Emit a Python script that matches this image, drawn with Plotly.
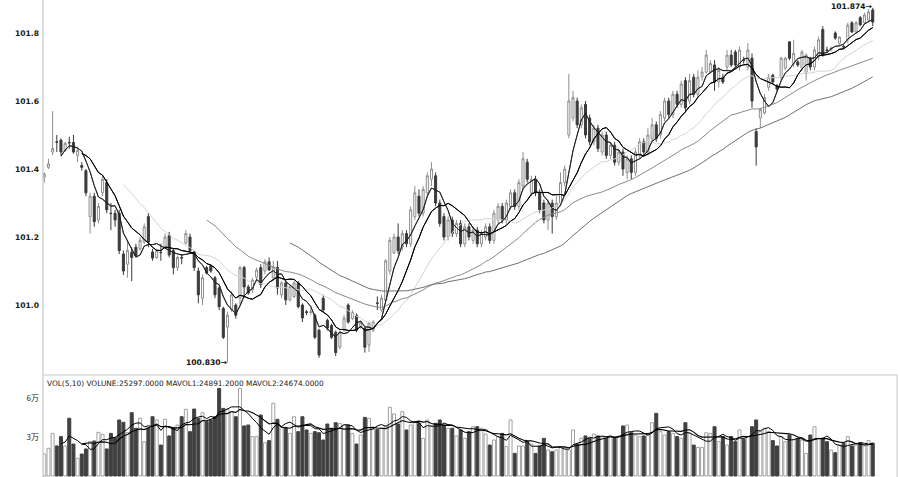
import plotly.graph_objects as go
import pandas as pd

# ---------------- data ----------------
open_ = [
    101.376, 101.405, 101.450, 101.480, 101.485, 101.455, 101.478, 101.478, 101.440, 101.410,
    101.395, 101.260, 101.320, 101.250, 101.330, 101.360, 101.270, 101.270, 101.270, 101.150,
    101.120, 101.155, 101.170, 101.165, 101.185, 101.260, 101.156, 101.140, 101.155, 101.170,
    101.205, 101.160, 101.110, 101.140, 101.182, 101.200, 101.156, 101.100, 101.020, 101.110,
    101.115, 101.080, 101.050, 100.990, 100.935, 100.985, 101.000, 101.020, 101.110, 101.053,
    101.044, 101.082, 101.110, 101.100, 101.127, 101.080, 101.110, 101.030, 101.065, 101.015,
    101.025, 101.065, 101.000, 100.980, 100.978, 100.970, 100.926, 101.020, 100.955, 100.940,
    100.920, 100.876, 100.926, 101.000, 100.960, 100.970, 100.935, 100.932, 100.882, 100.926,
    101.006, 100.985, 101.014, 101.100, 101.153, 101.200, 101.170, 101.210, 101.180, 101.260,
    101.320, 101.270, 101.330, 101.370, 101.380, 101.300, 101.260, 101.200, 101.250, 101.210,
    101.240, 101.180, 101.230, 101.190, 101.220, 101.180, 101.200, 101.230, 101.190, 101.250,
    101.290, 101.250, 101.290, 101.330, 101.290, 101.350, 101.420, 101.330, 101.370, 101.330,
    101.300, 101.250, 101.300, 101.260, 101.300, 101.360, 101.500, 101.550, 101.600, 101.530,
    101.590, 101.550, 101.480, 101.520, 101.450, 101.500, 101.440, 101.470, 101.420, 101.450,
    101.390, 101.430, 101.390, 101.440, 101.480, 101.450, 101.490, 101.530, 101.500, 101.550,
    101.600, 101.560, 101.620, 101.590, 101.660, 101.600, 101.670, 101.620, 101.672, 101.685,
    101.685, 101.706, 101.656, 101.670, 101.700, 101.735, 101.744, 101.700, 101.720, 101.700,
    101.726, 101.510, 101.550, 101.565, 101.640, 101.676, 101.645, 101.670, 101.697, 101.774,
    101.710, 101.715, 101.697, 101.682, 101.726, 101.700, 101.730, 101.810, 101.750, 101.752,
    101.800, 101.770, 101.760, 101.780, 101.830, 101.803, 101.845, 101.830, 101.838, 101.868,
]
high = [
    101.390, 101.430, 101.570, 101.500, 101.490, 101.480, 101.495, 101.500, 101.465, 101.420,
    101.400, 101.330, 101.330, 101.300, 101.380, 101.370, 101.300, 101.280, 101.280, 101.160,
    101.190, 101.170, 101.180, 101.200, 101.240, 101.270, 101.165, 101.165, 101.180, 101.210,
    101.215, 101.165, 101.145, 101.150, 101.220, 101.210, 101.160, 101.110, 101.090, 101.115,
    101.120, 101.085, 101.055, 100.995, 100.980, 101.040, 101.005, 101.115, 101.115, 101.060,
    101.080, 101.110, 101.120, 101.135, 101.140, 101.130, 101.130, 101.070, 101.070, 101.060,
    101.070, 101.070, 101.005, 100.985, 100.990, 100.975, 100.930, 101.030, 100.960, 100.945,
    100.925, 100.925, 100.970, 101.005, 100.985, 100.975, 100.950, 100.935, 100.950, 100.955,
    101.025, 101.030, 101.135, 101.200, 101.210, 101.240, 101.220, 101.220, 101.290, 101.350,
    101.340, 101.350, 101.390, 101.420, 101.390, 101.310, 101.270, 101.260, 101.260, 101.250,
    101.250, 101.240, 101.240, 101.230, 101.230, 101.220, 101.240, 101.240, 101.280, 101.300,
    101.300, 101.310, 101.340, 101.340, 101.370, 101.450, 101.430, 101.380, 101.380, 101.340,
    101.310, 101.310, 101.310, 101.320, 101.390, 101.410, 101.680, 101.630, 101.610, 101.590,
    101.600, 101.560, 101.530, 101.530, 101.510, 101.510, 101.480, 101.480, 101.460, 101.460,
    101.440, 101.440, 101.460, 101.490, 101.490, 101.520, 101.550, 101.540, 101.570, 101.610,
    101.610, 101.630, 101.630, 101.660, 101.670, 101.680, 101.680, 101.690, 101.700, 101.750,
    101.720, 101.720, 101.700, 101.680, 101.750, 101.750, 101.750, 101.760, 101.730, 101.770,
    101.740, 101.520, 101.580, 101.620, 101.680, 101.680, 101.650, 101.730, 101.730, 101.775,
    101.780, 101.720, 101.750, 101.740, 101.730, 101.760, 101.790, 101.820, 101.760, 101.760,
    101.805, 101.790, 101.765, 101.830, 101.835, 101.835, 101.850, 101.860, 101.870, 101.874,
]
low = [
    101.360, 101.400, 101.440, 101.450, 101.440, 101.450, 101.460, 101.445, 101.420, 101.395,
    101.320, 101.210, 101.230, 101.240, 101.320, 101.270, 101.220, 101.230, 101.150, 101.088,
    101.080, 101.070, 101.140, 101.160, 101.180, 101.170, 101.130, 101.135, 101.130, 101.165,
    101.140, 101.090, 101.100, 101.120, 101.178, 101.155, 101.100, 101.005, 101.000, 101.090,
    101.095, 101.020, 100.985, 100.900, 100.830, 100.980, 100.960, 101.000, 101.020, 101.030,
    101.035, 101.075, 101.050, 101.090, 101.100, 101.070, 101.030, 101.020, 101.000, 101.010,
    101.020, 100.990, 100.950, 100.970, 100.970, 100.900, 100.845, 100.980, 100.925, 100.900,
    100.850, 100.870, 100.920, 100.945, 100.955, 100.920, 100.930, 100.860, 100.862, 100.920,
    100.985, 100.980, 101.010, 101.090, 101.150, 101.150, 101.160, 101.170, 101.170, 101.250,
    101.260, 101.260, 101.320, 101.350, 101.290, 101.230, 101.190, 101.190, 101.200, 101.200,
    101.170, 101.170, 101.190, 101.180, 101.170, 101.170, 101.190, 101.180, 101.180, 101.240,
    101.240, 101.240, 101.280, 101.280, 101.280, 101.340, 101.360, 101.320, 101.320, 101.270,
    101.240, 101.220, 101.210, 101.250, 101.290, 101.350, 101.490, 101.540, 101.520, 101.520,
    101.490, 101.470, 101.470, 101.450, 101.440, 101.430, 101.430, 101.410, 101.410, 101.380,
    101.370, 101.370, 101.380, 101.430, 101.440, 101.440, 101.480, 101.480, 101.490, 101.540,
    101.550, 101.550, 101.580, 101.580, 101.570, 101.590, 101.610, 101.610, 101.660, 101.680,
    101.680, 101.630, 101.640, 101.650, 101.690, 101.700, 101.700, 101.690, 101.710, 101.690,
    101.580, 101.410, 101.520, 101.560, 101.630, 101.650, 101.630, 101.660, 101.690, 101.720,
    101.700, 101.700, 101.690, 101.660, 101.690, 101.690, 101.720, 101.730, 101.740, 101.745,
    101.780, 101.765, 101.755, 101.770, 101.800, 101.800, 101.820, 101.825, 101.835, 101.820,
]
close = [
    101.385, 101.415, 101.460, 101.479, 101.450, 101.475, 101.477, 101.450, 101.455, 101.405,
    101.330, 101.320, 101.245, 101.290, 101.370, 101.280, 101.269, 101.250, 101.160, 101.100,
    101.160, 101.140, 101.145, 101.190, 101.230, 101.185, 101.138, 101.160, 101.154, 101.200,
    101.147, 101.110, 101.140, 101.138, 101.210, 101.160, 101.110, 101.030, 101.080, 101.094,
    101.100, 101.030, 100.995, 100.905, 100.970, 101.030, 100.970, 101.110, 101.053, 101.035,
    101.073, 101.103, 101.060, 101.127, 101.103, 101.112, 101.050, 101.065, 101.015, 101.053,
    101.065, 100.995, 100.962, 100.978, 100.980, 100.905, 100.853, 100.985, 100.932, 100.905,
    100.860, 100.920, 100.962, 100.950, 100.978, 100.926, 100.948, 100.876, 100.947, 100.950,
    101.005, 101.020, 101.130, 101.190, 101.200, 101.160, 101.210, 101.180, 101.280, 101.330,
    101.270, 101.340, 101.380, 101.400, 101.300, 101.240, 101.200, 101.250, 101.210, 101.240,
    101.180, 101.230, 101.200, 101.220, 101.180, 101.210, 101.230, 101.190, 101.270, 101.290,
    101.250, 101.300, 101.330, 101.290, 101.360, 101.430, 101.370, 101.370, 101.330, 101.280,
    101.250, 101.300, 101.260, 101.300, 101.360, 101.400, 101.600, 101.610, 101.530, 101.580,
    101.500, 101.480, 101.520, 101.460, 101.500, 101.440, 101.470, 101.420, 101.450, 101.400,
    101.430, 101.390, 101.450, 101.480, 101.450, 101.500, 101.530, 101.490, 101.560, 101.600,
    101.560, 101.620, 101.590, 101.650, 101.580, 101.660, 101.620, 101.670, 101.685, 101.735,
    101.710, 101.656, 101.690, 101.656, 101.735, 101.706, 101.706, 101.750, 101.719, 101.750,
    101.600, 101.465, 101.575, 101.610, 101.670, 101.656, 101.635, 101.726, 101.726, 101.726,
    101.740, 101.706, 101.744, 101.735, 101.700, 101.750, 101.780, 101.735, 101.749, 101.755,
    101.785, 101.788, 101.759, 101.823, 101.803, 101.830, 101.824, 101.853, 101.862, 101.832,
]
volume = [
    16900, 21300, 32800, 23100, 30300, 23100, 44400, 24600, 13600, 16900,
    20800, 26400, 26900, 33600, 32000, 20800, 32800, 29500, 43100, 41300,
    33300, 48700, 36700, 44400, 26400, 36700, 45600, 43100, 23800, 43600,
    30800, 37400, 39200, 45600, 51300, 34100, 51500, 44400, 48700, 41800,
    43100, 45600, 67400, 52000, 51300, 49500, 45600, 67400, 38500, 39200,
    30300, 30300, 46900, 25600, 27200, 55900, 43600, 37900, 37200, 32800,
    45600, 34100, 45600, 35400, 32800, 34100, 33300, 27700, 40000, 36700,
    41000, 40500, 39200, 39200, 32800, 24600, 31500, 45100, 44400, 35900,
    35900, 36700, 38500, 52800, 47700, 40000, 49500, 35400, 39200, 41800,
    40500, 29000, 43100, 37900, 40500, 43100, 39200, 36700, 36700, 30800,
    35400, 29000, 34100, 37900, 37900, 36700, 32300, 23800, 27700, 30300,
    32800, 22600, 43100, 17400, 23100, 23100, 26400, 24600, 17400, 23100,
    29000, 20000, 18700, 20000, 22600, 22000, 20000, 35400, 24600, 29000,
    30800, 29000, 32300, 30800, 30300, 29000, 30800, 29000, 30800, 38500,
    39200, 33300, 31500, 30300, 30800, 31500, 41000, 48200, 34100, 31500,
    34100, 32800, 30300, 29000, 41000, 32800, 23800, 22000, 22000, 33300,
    32800, 37900, 26400, 30300, 23800, 30300, 26400, 35400, 28200, 30300,
    37900, 43100, 34100, 36700, 34100, 27200, 23100, 30300, 26400, 31500,
    28200, 29000, 27700, 17400, 31500, 37900, 29000, 29000, 26400, 20000,
    17900, 23800, 25100, 30300, 23100, 23800, 25600, 23100, 27200, 25297,
]
price_ticks = [101.0, 101.2, 101.4, 101.6, 101.8]
vol_ticks = [30000, 60000]
vol_tick_text = ["3万", "6万"]
ma_periods = [5, 10, 20, 40, 60]
ma_colors = ["#1e1e1e", "#000000", "#d4d4d4", "#8a8a8a", "#707070"]
ma_widths = [0.9, 1.0, 1.0, 1.0, 1.0]
vol_ma_periods = [5, 10]
vol_label = "VOL(5,10) VOLUNE:25297.0000 MAVOL1:24891.2000 MAVOL2:24674.0000"
low_label = "100.830→"
high_label = "101.874→"

# ---------------- figure ----------------
W, H = 900, 477
n = len(close)
idx = list(range(n))
x0_px, dx_px = 44.3, 4.163
left_px, right_px = 43, 897
xr = [(left_px - x0_px) / dx_px, (right_px - x0_px) / dx_px]

px_per_unit = 340.0
price_top = 101.8 + 33 / px_per_unit
price_bot = 101.8 - (375 - 33) / px_per_unit
vol_per_px = 30000 / 39.0
vol_top = (476 - 376) * vol_per_px
vol_bot = (476 - 477) * vol_per_px

DARK = "#3a3a3a"
UPLINE = "#8e8e8e"

fig = go.Figure()

s = pd.Series(close)
for p, c, w in zip(ma_periods, ma_colors, ma_widths):
    ma = s.rolling(p).mean()
    fig.add_trace(go.Scatter(x=idx, y=ma, mode="lines", line=dict(color=c, width=w),
                             xaxis="x", yaxis="y", showlegend=False, hoverinfo="skip"))

fig.add_trace(go.Candlestick(
    x=idx, open=open_, high=high, low=low, close=close, xaxis="x", yaxis="y",
    increasing=dict(line=dict(color=UPLINE, width=1), fillcolor="#ffffff"),
    decreasing=dict(line=dict(color=DARK, width=1), fillcolor=DARK),
    whiskerwidth=0, showlegend=False, hoverinfo="skip"))

for p, c, w in zip(ma_periods[:2], ma_colors[:2], ma_widths[:2]):
    ma = s.rolling(p).mean()
    fig.add_trace(go.Scatter(x=idx, y=ma, mode="lines", line=dict(color=c, width=w),
                             xaxis="x", yaxis="y", showlegend=False, hoverinfo="skip"))

up = [c >= o for o, c in zip(open_, close)]
fill = ["#ffffff" if u else "#404040" for u in up]
edge = ["#a0a0a0" if u else "#404040" for u in up]
fig.add_trace(go.Bar(x=idx, y=volume, width=0.72, marker=dict(color=fill, line=dict(color=edge, width=1)),
                     xaxis="x", yaxis="y2", showlegend=False, hoverinfo="skip"))
vs = pd.Series(volume, dtype=float)
for p, w in zip(vol_ma_periods, [1.0, 1.1]):
    fig.add_trace(go.Scatter(x=idx, y=vs.rolling(p).mean(), mode="lines",
                             line=dict(color="#000000", width=w), xaxis="x", yaxis="y2",
                             showlegend=False, hoverinfo="skip"))

sep = (H - 375) / H
fig.update_layout(
    width=W, height=H,
    margin=dict(l=left_px, r=W - right_px, t=0, b=0),
    paper_bgcolor="white", plot_bgcolor="white",
    bargap=0,
    xaxis=dict(range=xr, visible=False, anchor="y2", rangeslider=dict(visible=False), fixedrange=True),
    yaxis=dict(domain=[sep, 1.0], range=[price_bot, price_top], tickvals=price_ticks,
               ticktext=[f"{v:.1f}" for v in price_ticks], showgrid=False, zeroline=False,
               showline=False, ticks="", ticklabelstandoff=3,
               tickfont=dict(family="DejaVu Sans", size=7.6, color="#1a1a1a", weight="bold")),
    yaxis2=dict(domain=[0, (H - 376) / H], range=[vol_bot, vol_top], tickvals=vol_ticks,
                ticktext=vol_tick_text, showgrid=False, zeroline=False, showline=False, ticks="",
                ticklabelstandoff=3,
                tickfont=dict(family="Noto Sans CJK SC", size=8, color="#1a1a1a")),
    shapes=[
        dict(type="line", xref="paper", yref="paper", x0=0, x1=0, y0=0, y1=1,
             line=dict(color="#bdbdbd", width=1)),
        dict(type="line", xref="paper", yref="paper", x0=0, x1=1, y0=sep, y1=sep,
             line=dict(color="#c8c8c8", width=1)),
        dict(type="line", xref="paper", yref="paper", x0=1, x1=1, y0=0, y1=sep,
             line=dict(color="#c8c8c8", width=1)),
    ],
    annotations=[
        dict(text=vol_label, xref="paper", yref="paper", x=0.0, y=(H - 383) / H,
             xanchor="left", yanchor="middle", showarrow=False, xshift=2,
             font=dict(family="DejaVu Sans", size=7.4, color="#222222")),
        dict(text=low_label, xref="x", yref="y", x=44, y=min(low), xanchor="right",
             yanchor="middle", showarrow=False, xshift=2,
             font=dict(family="DejaVu Sans", size=7.6, color="#111111", weight="bold")),
        dict(text=high_label, xref="x", yref="y", x=n - 1, y=max(high), xanchor="right",
             yanchor="middle", showarrow=False, xshift=1, yshift=1,
             font=dict(family="DejaVu Sans", size=7.6, color="#111111", weight="bold")),
    ],
)

fig.write_html("out.html", config={"displayModeBar": False, "staticPlot": True},
               post_script="document.body.style.margin='0px';document.body.style.overflow='hidden';")
